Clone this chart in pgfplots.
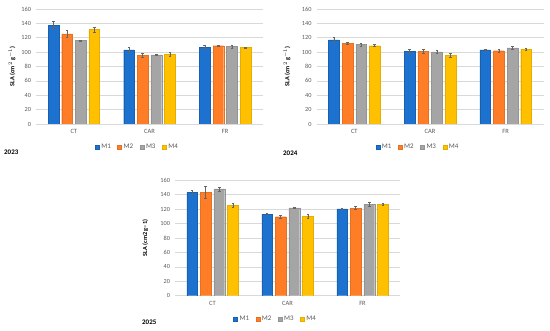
\documentclass[border=0pt]{standalone}
\usepackage{fontspec}
\setmainfont{Carlito}
\usepackage{pgfplots}
\pgfplotsset{compat=1.18}
\definecolor{cM1}{RGB}{28,114,206}
\definecolor{cM2}{RGB}{255,125,38}
\definecolor{cM3}{RGB}{165,165,165}
\definecolor{cM4}{RGB}{255,192,0}
\definecolor{txt}{RGB}{89,89,89}
\definecolor{gridc}{RGB}{217,217,217}
\pgfplotsset{
  panel/.style={
    scale only axis, width=227bp, height=115bp,
    ybar=2.9bp, bar width=10.7bp,
    xmin=-0.5, xmax=2.5, ymin=0, ymax=160,
    ytick={0,20,...,160},
    xtick={0,1,2}, xticklabels={CT,CAR,FR},
    axis x line=bottom, axis y line=left,
    x axis line style={-, draw=gridc, line width=0.6pt},
    y axis line style={draw=none},
    ymajorgrids, grid style={gridc, line width=0.5pt},
    major tick length=0,
    /pgf/number format/assume math mode=true,
    tick label style={text=txt},
    yticklabel style={xshift=-1.5bp, font=\fontsize{6.3}{7}\selectfont},
    xticklabel style={yshift=-2bp, font=\fontsize{6.5}{7}\selectfont},
    ylabel style={font=\bfseries\fontsize{6.3}{7}\selectfont, text=black},
    legend style={draw=none, fill=none, font=\fontsize{7}{8}\selectfont, text=txt,
      legend columns=4, anchor=center, at={(axis description cs:0.447,-0.2)},
      /tikz/every even column/.append style={column sep=4.5bp},
      inner sep=0pt},
    legend image code/.code={\fill[##1] (0bp,-2bp) rectangle (4bp,2bp);},
    error bars/y dir=both, error bars/y explicit,
    error bars/error bar style={line width=0.5pt, black!60},
    error bars/error mark options={rotate=90, mark size=1.3bp, line width=0.5pt, black!60},
  },
  b1/.style={fill=cM1, draw=cM1!85!black, line width=0.3pt},
  b2/.style={fill=cM2, draw=cM2!90!black, line width=0.3pt},
  b3/.style={fill=cM3, draw=cM3!90!black, line width=0.3pt},
  b4/.style={fill=cM4, draw=cM4!90!black, line width=0.3pt},
}
\begin{document}
\begin{tikzpicture}
\path[use as bounding box] (0,0) rectangle (550bp,331bp);
% 2023
\begin{axis}[panel, at={(36bp,207bp)}, anchor=south west,
  ylabel={SLA (cm$^{2}$ g$^{-1}$)},
  ylabel style={at={(axis description cs:-0.106,0.5)}, anchor=center}]
\addplot[b1] coordinates {(0,137.5) +- (0,6) (1,103) +- (0,4) (2,106.8) +- (0,3)};
\addplot[b2] coordinates {(0,125.3) +- (0,4.5) (1,95.3) +- (0,3) (2,109) +- (0,1)};
\addplot[b3] coordinates {(0,116) +- (0,1) (1,96.2) +- (0,1.2) (2,107.7) +- (0,2.2)};
\addplot[b4] coordinates {(0,131.3) +- (0,3.5) (1,97) +- (0,3) (2,106.4) +- (0,1)};
\legend{M1,M2,M3,M4}
\end{axis}
% 2024
\begin{axis}[panel, at={(316.5bp,207bp)}, anchor=south west,
  ylabel={SLA (cm$^{2}$ g$^{-1}$)},
  ylabel style={at={(axis description cs:-0.13,0.5)}, anchor=center}]
\addplot[b1] coordinates {(0,117) +- (0,3) (1,101.3) +- (0,3) (2,103) +- (0,1.5)};
\addplot[b2] coordinates {(0,112.4) +- (0,1.5) (1,101.3) +- (0,3) (2,102) +- (0,2)};
\addplot[b3] coordinates {(0,110.5) +- (0,2.2) (1,100.3) +- (0,2.5) (2,106) +- (0,2)};
\addplot[b4] coordinates {(0,109) +- (0,1.5) (1,95.7) +- (0,3) (2,104) +- (0,1.5)};
\legend{M1,M2,M3,M4}
\end{axis}
% 2025
\begin{axis}[panel, at={(175bp,35.3bp)}, anchor=south west, width=225bp, height=115.4bp,
  ylabel={SLA (cm2 g\textminus1)},
  ylabel style={at={(axis description cs:-0.132,0.5)}, anchor=center}]
\addplot[b1] coordinates {(0,142.9) +- (0,3) (1,113.2) +- (0,1.5) (2,120.3) +- (0,1)};
\addplot[b2] coordinates {(0,143.3) +- (0,8) (1,109.5) +- (0,2.5) (2,121.5) +- (0,2.3)};
\addplot[b3] coordinates {(0,148) +- (0,2.5) (1,121.7) +- (0,1) (2,126.6) +- (0,2.5)};
\addplot[b4] coordinates {(0,125.7) +- (0,2.8) (1,110.4) +- (0,3) (2,127) +- (0,1)};
\legend{M1,M2,M3,M4}
\end{axis}
\node[anchor=west, font=\bfseries\fontsize{7}{8}\selectfont, inner sep=0pt] at (4bp,179bp) {2023};
\node[anchor=west, font=\bfseries\fontsize{7}{8}\selectfont, inner sep=0pt] at (283bp,178bp) {2024};
\node[anchor=west, font=\bfseries\fontsize{7}{8}\selectfont, inner sep=0pt] at (142bp,8.5bp) {2025};
\end{tikzpicture}
\end{document}
